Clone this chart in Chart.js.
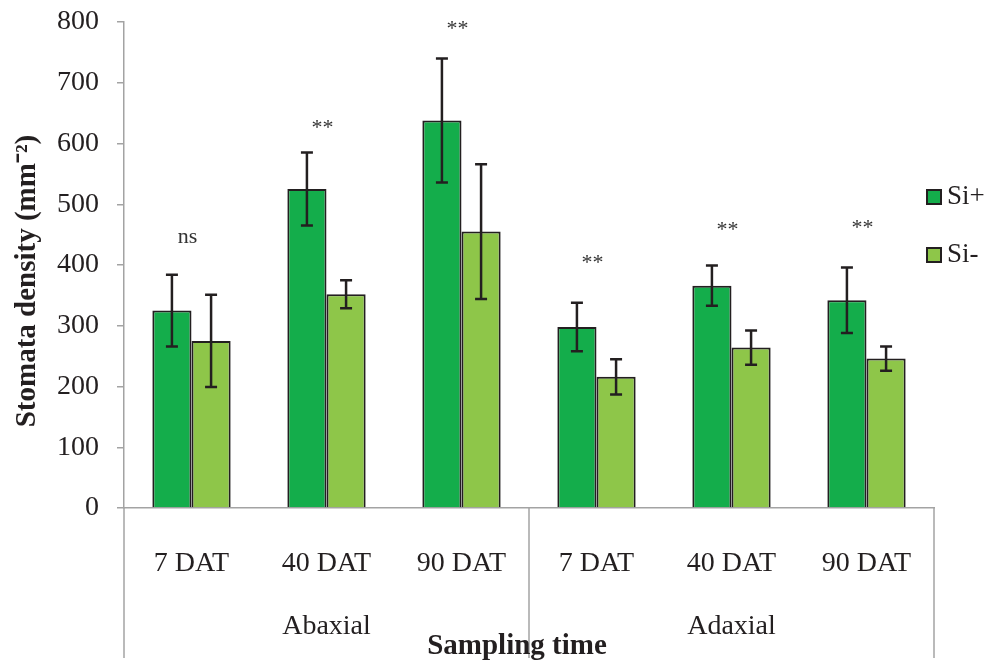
<!DOCTYPE html>
<html>
<head>
<meta charset="utf-8">
<script src="https://cdn.jsdelivr.net/npm/chart.js@4.4.1/dist/chart.umd.min.js"></script>
<style>
  html, body { margin: 0; padding: 0; background: #fff; }
  #wrap { width: 993px; height: 663px; }
</style>
</head>
<body>
<div id="wrap"><canvas id="myChart" width="993" height="663"></canvas></div>
<script>
const categories = ["7 DAT", "40 DAT", "90 DAT", "7 DAT", "40 DAT", "90 DAT"];
const groups = ["Abaxial", "Adaxial"];
const siPlus = [325, 525, 638, 298, 366, 342];
const siPlusErr = [59, 60, 102, 40, 33, 54];
const siMinus = [275, 352, 455, 216, 264, 246];
const siMinusErr = [76, 23, 111, 29, 28, 20];
const marks = ["ns", "**", "**", "**", "**", "**"];
const markLevel = [445, 625, 788, 403, 458, 460];
const yMax = 800;
const yStep = 100;

const SERIF = "'Liberation Serif', 'Times New Roman', serif";
const darkGreen = "#14ad4b";
const lightGreen = "#8ec649";
const axisGrey = "#a3a3a3";
const ink = "#231f20";

const ctx = document.getElementById("myChart").getContext("2d");

const extras = {
  id: "extras",
  afterDatasetsDraw(chart) {
    const c = chart.ctx;
    const y = chart.scales.y;
    const x = chart.scales.x;
    const errs = [siPlusErr, siMinusErr];
    c.save();
    // error bars
    c.strokeStyle = ink;
    c.lineWidth = 2.5;
    chart.data.datasets.forEach((ds, i) => {
      chart.getDatasetMeta(i).data.forEach((bar, j) => {
        const v = ds.data[j];
        const top = y.getPixelForValue(v + errs[i][j]);
        const bot = y.getPixelForValue(v - errs[i][j]);
        c.beginPath();
        c.moveTo(bar.x, top); c.lineTo(bar.x, bot);
        c.moveTo(bar.x - 6, top); c.lineTo(bar.x + 6, top);
        c.moveTo(bar.x - 6, bot); c.lineTo(bar.x + 6, bot);
        c.stroke();
      });
    });
    // significance marks
    c.fillStyle = "#333";
    c.textAlign = "center";
    c.textBaseline = "middle";
    c.font = "22px " + SERIF;
    marks.forEach((m, j) => {
      c.fillText(m, x.getPixelForValue(j) - 4, y.getPixelForValue(markLevel[j]));
    });
    c.restore();
  },
  afterDraw(chart) {
    const c = chart.ctx;
    const x = chart.scales.x;
    const area = chart.chartArea;
    c.save();
    // group separators
    const mid = (x.getPixelForValue(2) + x.getPixelForValue(3)) / 2;
    c.strokeStyle = axisGrey;
    c.lineWidth = 1.5;
    [area.left, mid, area.right].forEach(px => {
      c.beginPath();
      c.moveTo(px, area.bottom);
      c.lineTo(px, 658);
      c.stroke();
    });
    // group labels
    c.fillStyle = ink;
    c.textAlign = "center";
    c.textBaseline = "middle";
    c.font = "28px " + SERIF;
    c.fillText(groups[0], (area.left + mid) / 2, 627);
    c.fillText(groups[1], (mid + area.right) / 2, 627);
    // axis titles
    c.font = "bold 29px " + SERIF;
    c.fillText("Sampling time", 517, 647);
    c.save();
    c.translate(28, 281);
    c.rotate(-Math.PI / 2);
    c.fillText("Stomata density (mm\u207B\u00B2)", 0, 0);
    c.restore();
    // legend
    const items = [["Si+", darkGreen, 197], ["Si-", lightGreen, 255]];
    items.forEach(([label, col, cy]) => {
      c.fillStyle = col;
      c.fillRect(927, cy - 7, 14, 14);
      c.strokeStyle = ink;
      c.lineWidth = 2;
      c.strokeRect(927, cy - 7, 14, 14);
      c.fillStyle = ink;
      c.textAlign = "left";
      c.font = "27px " + SERIF;
      c.fillText(label, 947, cy);
    });
    c.restore();
  }
};

new Chart(ctx, {
  type: "bar",
  data: {
    labels: categories,
    datasets: [
      {
        label: "Si+",
        data: siPlus,
        backgroundColor: darkGreen,
        borderColor: ink,
        borderWidth: 2,
        categoryPercentage: 0.58,
        barPercentage: 1,
      },
      {
        label: "Si-",
        data: siMinus,
        backgroundColor: lightGreen,
        borderColor: ink,
        borderWidth: 2,
        categoryPercentage: 0.58,
        barPercentage: 1,
      },
    ],
  },
  options: {
    responsive: false,
    animation: false,
    layout: { padding: { top: 22, right: 59, bottom: 0, left: 0 } },
    plugins: {
      legend: { display: false },
      tooltip: { enabled: false },
    },
    scales: {
      x: {
        afterFit(scale) {
          scale.height = 155;
          scale.paddingLeft = 0;
          scale.paddingRight = 0;
        },
        grid: { display: false },
        border: { color: axisGrey, width: 1.5 },
        ticks: {
          color: ink,
          padding: 31,
          font: { family: SERIF, size: 28 },
          maxRotation: 0,
        },
      },
      y: {
        min: 0,
        max: yMax,
        afterFit(scale) {
          scale.width = 124;
          scale.paddingTop = 0;
          scale.paddingBottom = 0;
        },
        border: { color: axisGrey, width: 1.5 },
        grid: {
          drawOnChartArea: false,
          drawTicks: true,
          tickLength: 7,
          color: axisGrey,
          lineWidth: 1.5,
        },
        ticks: {
          stepSize: yStep,
          color: ink,
          padding: 18,
          font: { family: SERIF, size: 28 },
        },
      },
    },
  },
  plugins: [extras],
});
</script>
</body>
</html>
